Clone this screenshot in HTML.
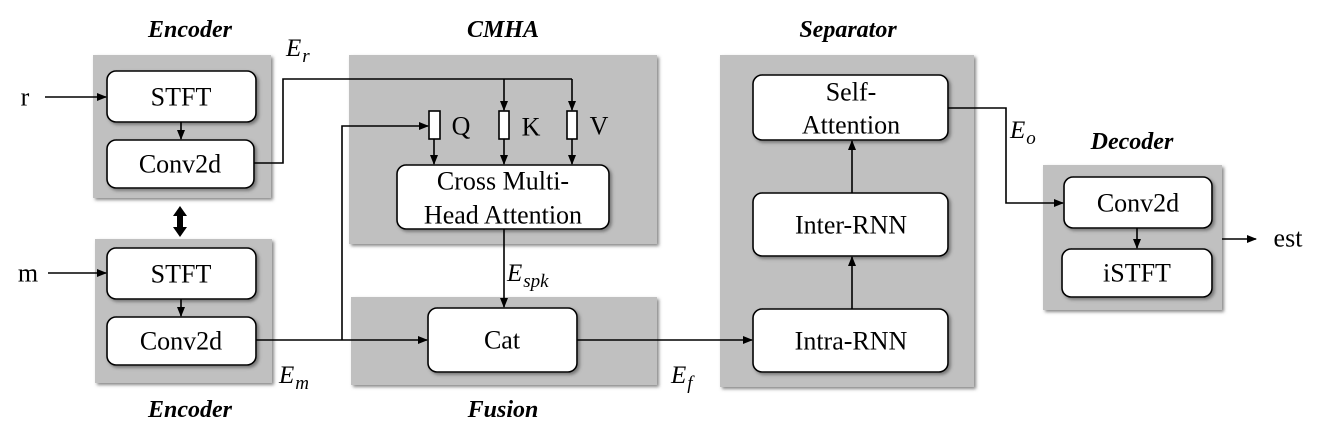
<!DOCTYPE html>
<html><head><meta charset="utf-8"><style>
body{margin:0;background:#fff}
svg{display:block}
.t{font-family:"Liberation Serif","Times New Roman",serif;font-size:26px;text-anchor:middle;dominant-baseline:central;fill:#000}
.h{font-family:"Liberation Serif","Times New Roman",serif;font-size:24px;font-weight:bold;font-style:italic;text-anchor:middle;dominant-baseline:central;fill:#000}
.m{font-family:"Liberation Serif","Times New Roman",serif;font-size:25px;font-style:italic;fill:#000}
.s{font-size:19px;font-style:italic}
.p{fill:#c0c0c0}
.b{fill:#fff;stroke:#000;stroke-width:1.6}
.l{fill:none;stroke:#000;stroke-width:1.6}
</style></head><body>
<svg width="1329" height="439" viewBox="0 0 1329 439" xmlns="http://www.w3.org/2000/svg" font-family="Liberation Serif, serif">
<defs>
<marker id="a" markerWidth="10" markerHeight="8" refX="9" refY="4" orient="auto" markerUnits="userSpaceOnUse"><path d="M0,0 L10,4 L0,8 z" fill="#000"/></marker>
<filter id="sh" x="-10%" y="-10%" width="130%" height="130%"><feDropShadow dx="2" dy="2" stdDeviation="1.5" flood-color="#555" flood-opacity="0.7"/></filter>
</defs>
<g filter="url(#sh)">
<rect class="p" x="93" y="55" width="178" height="143"/>
<rect class="p" x="95" y="239" width="177" height="144"/>
<rect class="p" x="349" y="55" width="308" height="189"/>
<rect class="p" x="351" y="297" width="306" height="88"/>
<rect class="p" x="720" y="55" width="254" height="332"/>
<rect class="p" x="1043" y="165" width="179" height="145"/>
</g>
<text class="h" x="190" y="30">Encoder</text>
<text class="h" x="503" y="30">CMHA</text>
<text class="h" x="848" y="30">Separator</text>
<text class="h" x="190" y="410">Encoder</text>
<text class="h" x="503" y="410">Fusion</text>
<text class="h" x="1132" y="142">Decoder</text>
<g filter="url(#sh)">
<rect class="b" x="107" y="71" width="149" height="51" rx="9"/>
<rect class="b" x="107" y="140" width="147" height="48" rx="9"/>
<rect class="b" x="107" y="248" width="149" height="51" rx="9"/>
<rect class="b" x="107" y="317" width="149" height="48" rx="9"/>
<rect class="b" x="397" y="165" width="212" height="64" rx="9"/>
<rect class="b" x="428" y="308" width="149" height="64" rx="9"/>
<rect class="b" x="753" y="75" width="195" height="65" rx="9"/>
<rect class="b" x="753" y="193" width="195" height="63" rx="9"/>
<rect class="b" x="753" y="309" width="195" height="63" rx="9"/>
<rect class="b" x="1064" y="177" width="148" height="51" rx="9"/>
<rect class="b" x="1062" y="249" width="150" height="48" rx="9"/>
</g>
<rect class="b" x="429" y="111" width="11" height="28"/>
<rect class="b" x="499" y="111" width="10" height="28"/>
<rect class="b" x="567" y="111" width="10" height="28"/>
<text class="t" x="181" y="97">STFT</text>
<text class="t" x="180" y="164">Conv2d</text>
<text class="t" x="181" y="274">STFT</text>
<text class="t" x="181" y="341">Conv2d</text>
<text class="t" x="503" y="181">Cross Multi-</text>
<text class="t" x="503" y="215">Head Attention</text>
<text class="t" x="502" y="340">Cat</text>
<text class="t" x="851" y="92">Self-</text>
<text class="t" x="851" y="125">Attention</text>
<text class="t" x="851" y="225">Inter-RNN</text>
<text class="t" x="851" y="341">Intra-RNN</text>
<text class="t" x="1138" y="203">Conv2d</text>
<text class="t" x="1137" y="273">iSTFT</text>
<text class="t" x="461" y="126">Q</text>
<text class="t" x="531" y="127">K</text>
<text class="t" x="599" y="126">V</text>
<text class="t" x="25" y="97">r</text>
<text class="t" x="28" y="273">m</text>
<text class="t" x="1288" y="238">est</text>
<text class="m" x="286" y="56">E<tspan class="s" dx="1" dy="6">r</tspan></text>
<text class="m" x="279" y="383">E<tspan class="s" dx="1" dy="6">m</tspan></text>
<text class="m" x="507" y="281">E<tspan class="s" dx="1" dy="6">spk</tspan></text>
<text class="m" x="671" y="383">E<tspan class="s" dx="1" dy="6">f</tspan></text>
<text class="m" x="1010" y="138">E<tspan class="s" dx="1" dy="6">o</tspan></text>
<line class="l" x1="45" y1="97" x2="106" y2="97" marker-end="url(#a)"/>
<line class="l" x1="48" y1="273" x2="106" y2="273" marker-end="url(#a)"/>
<line class="l" x1="181" y1="122" x2="181" y2="139" marker-end="url(#a)"/>
<line class="l" x1="181" y1="299" x2="181" y2="316" marker-end="url(#a)"/>
<path class="l" d="M254,163 H283 V79 H572"/>
<line class="l" x1="504" y1="79" x2="504" y2="110" marker-end="url(#a)"/>
<line class="l" x1="572" y1="79" x2="572" y2="110" marker-end="url(#a)"/>
<line class="l" x1="434" y1="139" x2="434" y2="164" marker-end="url(#a)"/>
<line class="l" x1="504" y1="139" x2="504" y2="164" marker-end="url(#a)"/>
<line class="l" x1="572" y1="139" x2="572" y2="164" marker-end="url(#a)"/>
<line class="l" x1="256" y1="340" x2="427" y2="340" marker-end="url(#a)"/>
<path class="l" d="M342,340 V126 H428" marker-end="url(#a)"/>
<line class="l" x1="504" y1="229" x2="504" y2="307" marker-end="url(#a)"/>
<line class="l" x1="577" y1="340" x2="752" y2="340" marker-end="url(#a)"/>
<line class="l" x1="852" y1="309" x2="852" y2="257" marker-end="url(#a)"/>
<line class="l" x1="852" y1="193" x2="852" y2="141" marker-end="url(#a)"/>
<path class="l" d="M948,108 H1006 V203 H1063" marker-end="url(#a)"/>
<line class="l" x1="1137" y1="228" x2="1137" y2="248" marker-end="url(#a)"/>
<line class="l" x1="1222" y1="239" x2="1256" y2="239" marker-end="url(#a)"/>
<path d="M180,206 L187,216 L183,216 L183,227 L187,227 L180,237 L173,227 L177,227 L177,216 L173,216 z" fill="#000"/>
</svg>
</body></html>
